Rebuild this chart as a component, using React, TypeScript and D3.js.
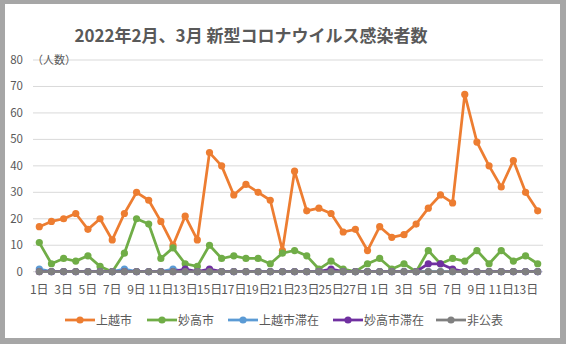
import React from "react";
import * as d3 from "d3";

const TITLE = "2022年2月、3月 新型コロナウイルス感染者数";
const Y_UNIT = "（人数）";
const DAYS: string[] = [
  ...d3.range(1, 29).map((d) => `${d}日`),
  ...d3.range(1, 15).map((d) => `${d}日`),
];
const Y_TICKS = [0, 10, 20, 30, 40, 50, 60, 70, 80];

const joetsu = [17, 19, 20, 22, 16, 20, 12, 22, 30, 27, 19, 10, 21, 12, 45, 40, 29, 33, 30, 27, 8, 38, 23, 24, 22, 15, 16, 8,
  17, 13, 14, 18, 24, 29, 26, 67, 49, 40, 32, 42, 30, 23];
const myoko = [11, 3, 5, 4, 6, 2, 0, 7, 20, 18, 5, 9, 3, 2, 10, 5, 6, 5, 5, 3, 7, 8, 6, 1, 4, 1, 0, 3,
  5, 1, 3, 0, 8, 3, 5, 4, 8, 3, 8, 4, 6, 3];
const joetsuStay = [1, 0, 0, 0, 0, 0, 0, 1, 0, 0, 0, 1, 0, 0, 0, 0, 0, 0, 0, 0, 0, 0, 0, 0, 0, 0, 0, 0,
  0, 0, 0, 0, 0, 0, 0, 0, 0, 0, 0, 0, 0, 0];
const myokoStay = [0, 0, 0, 0, 0, 0, 0, 0, 0, 0, 0, 0, 1, 0, 1, 0, 0, 0, 0, 0, 0, 0, 0, 0, 1, 0, 0, 0,
  0, 0, 0, 0, 3, 3, 1, 0, 0, 0, 0, 0, 0, 0];
const undisclosed = [0, 0, 0, 0, 0, 0, 0, 0, 0, 0, 0, 0, 0, 0, 0, 0, 0, 0, 0, 0, 0, 0, 0, 0, 0, 0, 0, 0,
  0, 0, 0, 0, 0, 0, 0, 0, 0, 0, 0, 0, 0, 0];

const SERIES_NAMES = ["上越市", "妙高市", "上越市滞在", "妙高市滞在", "非公表"];
const SERIES_VALUES = [joetsu, myoko, joetsuStay, myokoStay, undisclosed];
const COLORS = ["#ED7D31", "#70AD47", "#5B9BD5", "#7030A0", "#808080"];

const W = 566;
const H = 344;
const FONT = "'Noto Sans CJK JP', 'Noto Sans', sans-serif";

export default function App() {
  const x = d3
    .scalePoint<number>()
    .domain(d3.range(DAYS.length))
    .range([39.3, 537.7]);
  const y = d3.scaleLinear().domain([0, 80]).range([271.7, 60]);
  const line = d3
    .line<number>()
    .x((_, i) => x(i) as number)
    .y((d) => y(d));

  const legendX = [65, 147, 228, 333, 436];

  return (
    <svg
      width={W}
      height={H}
      style={{ position: "absolute", left: 0, top: 0 }}
      fontFamily={FONT}
    >
      <rect x={0} y={0} width={W} height={H} fill="#a6a6a6" />
      <rect x={5} y={4} width={555} height={334} fill="#ffffff" />
      <text
        x={251}
        y={42}
        textAnchor="middle"
        fontSize={17}
        fontWeight="bold"
        fill="#595959"
      >
        {TITLE}
      </text>
      {Y_TICKS.map((t) => (
        <g key={t}>
          <line x1={33} x2={543} y1={y(t)} y2={y(t)} stroke="#d9d9d9" strokeWidth={1} />
          <text x={23} y={y(t) + 4} textAnchor="end" fontSize={11.5} fill="#595959">
            {t}
          </text>
        </g>
      ))}
      <text x={32} y={y(80) + 4} fontSize={11} fill="#595959">
        {Y_UNIT}
      </text>
      {DAYS.map((d, i) =>
        i % 2 === 0 ? (
          <text key={i} x={x(i)} y={294} textAnchor="middle" fontSize={12} fill="#595959">
            {d}
          </text>
        ) : null
      )}
      {SERIES_VALUES.map((vals, s) => (
        <g key={s}>
          <path d={line(vals) || ""} fill="none" stroke={COLORS[s]} strokeWidth={2.75} strokeLinejoin="round" />
          {vals.map((v, i) => (
            <circle key={i} cx={x(i)} cy={y(v)} r={3.6} fill={COLORS[s]} />
          ))}
        </g>
      ))}
      {SERIES_NAMES.map((n, s) => (
        <g key={n} transform={`translate(${legendX[s]},320)`}>
          <line x1={0} x2={30} y1={0} y2={0} stroke={COLORS[s]} strokeWidth={2.75} />
          <circle cx={15} cy={0} r={3.6} fill={COLORS[s]} />
          <text x={31} y={4.5} fontSize={12} fill="#595959">
            {n}
          </text>
        </g>
      ))}
    </svg>
  );
}
